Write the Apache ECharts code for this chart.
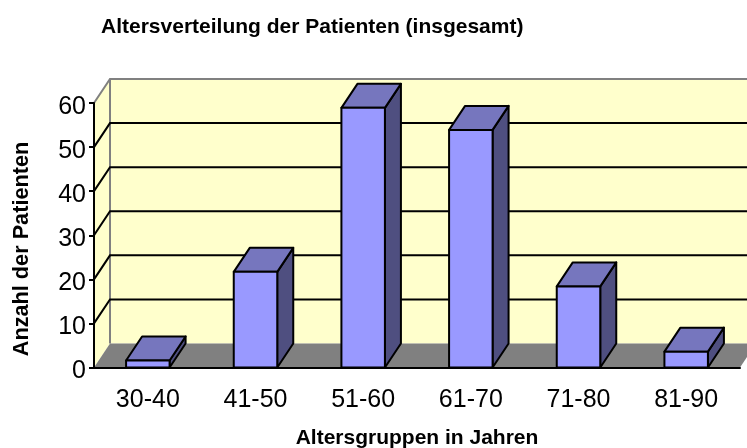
<!DOCTYPE html>
<html>
<head>
<meta charset="utf-8">
<style>
  html, body { margin: 0; padding: 0; background: #fff; }
  #chart { width: 747px; height: 448px; }
</style>
<script src="https://cdn.jsdelivr.net/npm/echarts@6/dist/echarts.min.js"></script>
</head>
<body>
<div id="chart"></div>
<script>
  const categories = ['30-40', '41-50', '51-60', '61-70', '71-80', '81-90'];
  const patients = [1.6, 21.7, 58.9, 53.9, 18.4, 3.6];
  const gridValues = [10, 20, 30, 40, 50];

  // Tiefe der 3D-Darstellung in Pixeln
  const depthX = 16;
  const depthY = -24;
  const barWidth = 43.5;
  const font = '"Liberation Sans", Arial, sans-serif';

  const chart = echarts.init(document.getElementById('chart'), null, { renderer: 'canvas' });

  const renderWalls = (params, api) => {
    const cs = params.coordSys;
    const l = cs.x;
    const r = cs.x + cs.width;
    const t = cs.y;
    const b = cs.y + cs.height;
    const border = { stroke: '#808080', lineWidth: 2 };
    return {
      type: 'group',
      children: [
        {
          type: 'polygon',
          shape: { points: [[l + depthX, t + depthY], [r + depthX, t + depthY], [r + depthX, b + depthY], [l + depthX, b + depthY]] },
          style: { fill: '#FFFFCC' },
        },
        {
          type: 'polygon',
          shape: { points: [[l, t], [l + depthX, t + depthY], [l + depthX, b + depthY], [l, b]] },
          style: { fill: '#FFFFCC' },
        },
        {
          type: 'polygon',
          shape: { points: [[l, b], [l + depthX, b + depthY], [r + depthX, b + depthY], [r, b]] },
          style: { fill: '#808080' },
        },
        {
          type: 'polyline',
          shape: { points: [[l, t], [l + depthX, t + depthY], [r + depthX, t + depthY]] },
          style: { fill: 'none', ...border },
        },
        {
          type: 'line',
          shape: { x1: l + depthX, y1: t + depthY, x2: l + depthX, y2: b + depthY },
          style: border,
        },
      ],
    };
  };

  const renderGrid = (params, api) => {
    const cs = params.coordSys;
    const p = api.coord([0, api.value(0)]);
    return {
      type: 'polyline',
      shape: { points: [[cs.x, p[1]], [cs.x + depthX, p[1] + depthY], [cs.x + cs.width + depthX, p[1] + depthY]] },
      style: { fill: 'none', stroke: '#000', lineWidth: 2 },
    };
  };

  const renderBar = (params, api) => {
    const top = api.coord([api.value(0), api.value(1)]);
    const base = api.coord([api.value(0), 0]);
    const l = top[0] - barWidth / 2;
    const r = top[0] + barWidth / 2;
    const edge = { stroke: '#000', lineWidth: 2, lineJoin: 'round' };
    return {
      type: 'group',
      children: [
        {
          type: 'polygon',
          shape: { points: [[r, top[1]], [r + depthX, top[1] + depthY], [r + depthX, base[1] + depthY], [r, base[1]]] },
          style: { fill: '#4F4F80', ...edge },
        },
        {
          type: 'polygon',
          shape: { points: [[l, top[1]], [l + depthX, top[1] + depthY], [r + depthX, top[1] + depthY], [r, top[1]]] },
          style: { fill: '#7676BE', ...edge },
        },
        {
          type: 'polygon',
          shape: { points: [[l, top[1]], [r, top[1]], [r, base[1]], [l, base[1]]] },
          style: { fill: '#9999FF', ...edge },
        },
      ],
    };
  };

  chart.setOption({
    animation: false,
    backgroundColor: '#fff',
    textStyle: { fontFamily: font, color: '#000' },
    title: {
      text: 'Altersverteilung der Patienten (insgesamt)',
      left: 96,
      top: 12,
      textStyle: { fontFamily: font, fontSize: 21, fontWeight: 'bold', color: '#000' },
    },
    graphic: [
      {
        type: 'text',
        x: 22.5,
        y: 249,
        rotation: Math.PI / 2,
        style: {
          text: 'Anzahl der Patienten',
          font: 'bold 21.7px ' + font,
          fill: '#000',
          align: 'center',
          verticalAlign: 'middle',
        },
      },
    ],
    grid: { left: 94, right: 7, top: 103, bottom: 80.5, outerBoundsMode: 'none' },
    xAxis: {
      type: 'category',
      data: categories,
      z: 5,
      name: 'Altersgruppen in Jahren',
      nameLocation: 'middle',
      nameGap: 60,
      nameTextStyle: { fontFamily: font, fontSize: 21, fontWeight: 'bold', color: '#000' },
      axisLine: { lineStyle: { color: '#000', width: 2 } },
      axisTick: { length: 5, lineStyle: { color: '#000', width: 2 } },
      axisLabel: { fontFamily: font, fontSize: 25, color: '#000', margin: 20 },
    },
    yAxis: {
      type: 'value',
      min: 0,
      max: 60,
      interval: 10,
      z: 5,
      splitLine: { show: false },
      axisLine: { show: true, lineStyle: { color: '#000', width: 2 } },
      axisTick: { show: true, length: 5, lineStyle: { color: '#000', width: 2 } },
      axisLabel: {
        margin: 8,
        formatter: '{tick|{value}}',
        rich: { tick: { fontFamily: font, fontSize: 25, color: '#000', padding: [8, 0, 0, 0] } },
      },
    },
    series: [
      { type: 'custom', name: 'Wände', data: [[0]], renderItem: renderWalls, z: 1, silent: true },
      { type: 'custom', name: 'Gitter', data: gridValues.map((v) => [v]), renderItem: renderGrid, z: 2, silent: true },
      {
        type: 'custom',
        name: 'Patienten',
        data: patients.map((v, i) => [i, v]),
        renderItem: renderBar,
        encode: { x: 0, y: 1 },
        z: 3,
      },
    ],
  });
</script>
</body>
</html>
